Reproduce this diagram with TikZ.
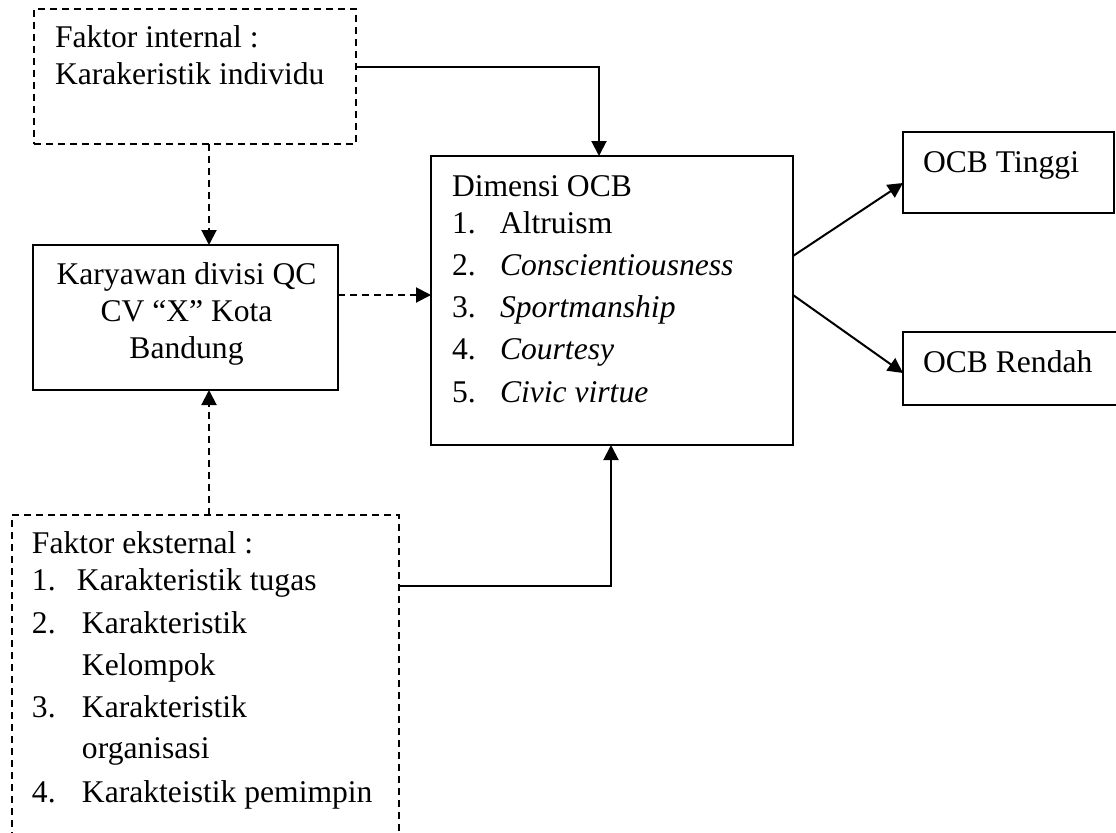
\documentclass[tikz,border=0pt]{standalone}
\usepackage{fontspec}
\setmainfont{Liberation Serif}
\usetikzlibrary{arrows.meta}
\begin{document}
\begin{tikzpicture}[x=0.5pt,y=-0.5pt,
  font=\fontsize{15.8pt}{18.5pt}\selectfont,
  box/.style={draw, line width=1pt, inner sep=0pt, outer sep=0pt},
  dbox/.style={box, dash pattern=on 3.5pt off 2.5pt},
  txt/.style={inner sep=0pt, outer sep=0pt, anchor=base west},
  conn/.style={line width=1pt, -{Triangle[length=7.5pt,width=7.5pt]}},
  dconn/.style={conn, dash pattern=on 3.5pt off 2.5pt}]
\clip (0,0) rectangle (1116,832);
% boxes
\node[dbox, minimum width=161pt, minimum height=67.5pt] (int) at (195,76.5) {};
\node[box, minimum width=152.5pt, minimum height=72.5pt] (kar) at (185.5,317.5) {};
\node[box, minimum width=181pt, minimum height=144.5pt] (dim) at (612,300.5) {};
\node[dbox, minimum width=193.5pt, minimum height=192.5pt] (ext) at (205.5,707.5) {};
\node[box, minimum width=105.5pt, minimum height=40.5pt] (tin) at (1008.5,172.5) {};
\node[box, minimum width=118.5pt, minimum height=36.5pt] (ren) at (1021.5,368.5) {};
% texts
\node[txt] (intT) at (55,47) {\begin{tabular}[t]{@{}l@{}}Faktor internal :\\Karakeristik individu\end{tabular}};
\node[txt, anchor=base] (karT) at (186.5,284) {\begin{tabular}[t]{@{}c@{}}Karyawan divisi QC\\CV “X” Kota\\Bandung\end{tabular}};
\node[txt] (dimT) at (452,196) {\begin{tabular}[t]{@{}l@{}}Dimensi OCB\\
\makebox[24pt][l]{1.}Altruism\\[2.5pt]
\makebox[24pt][l]{2.}\textit{Conscientiousness}\\[2.5pt]
\makebox[24pt][l]{3.}\textit{Sportmanship}\\[2.5pt]
\makebox[24pt][l]{4.}\textit{Courtesy}\\[3pt]
\makebox[24pt][l]{5.}\textit{Civic virtue}\end{tabular}};
\node[txt] (extT) at (32,553) {\begin{tabular}[t]{@{}l@{}}Faktor eksternal :\\
\makebox[22.5pt][l]{1.}Karakteristik tugas\\[3pt]
\makebox[25pt][l]{2.}Karakteristik\\[2.5pt]
\hspace*{25pt}Kelompok\\[2.5pt]
\makebox[25pt][l]{3.}Karakteristik\\[2pt]
\hspace*{25pt}organisasi\\[3.5pt]
\makebox[25pt][l]{4.}Karakteistik pemimpin\end{tabular}};
\node[txt] (tinT) at (923,172) {OCB Tinggi};
\node[txt] (renT) at (923,372) {OCB Rendah};
% connectors
\draw[conn] (int.east |- 0,67) -| (dim.north -| 599,0);
\draw[dconn] (int.south -| 209,0) -- (kar.north -| 209,0);
\draw[dconn] (kar.east |- 0,295) -- (dim.west |- 0,295);
\draw[dconn] (ext.north -| 209,0) -- (kar.south -| 209,0);
\draw[conn] (ext.east |- 0,586) -| (dim.south -| 611,0);
\draw[conn] (dim.east |- 0,256) -- (tin.west |- 0,183);
\draw[conn] (dim.east |- 0,295) -- (ren.west |- 0,373);
\end{tikzpicture}
\end{document}
